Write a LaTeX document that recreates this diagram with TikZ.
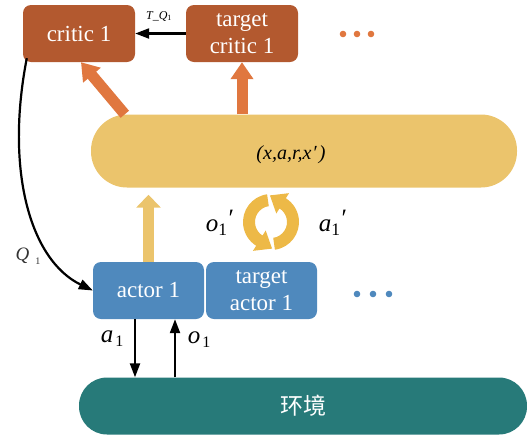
\documentclass[tikz,border=0pt]{standalone}
\usepackage{fontspec}
\setmainfont{Liberation Serif}
\newfontfamily\cjk{Noto Sans CJK SC}
\usetikzlibrary{arrows.meta,calc}
\definecolor{critc}{HTML}{B3592F}
\definecolor{orng}{HTML}{E0773F}
\definecolor{ylw}{HTML}{EBC46C}
\definecolor{gold}{HTML}{EDB947}
\definecolor{blu}{HTML}{4F89BD}
\definecolor{teal2}{HTML}{277A79}
\tikzset{
  box/.style={rectangle, rounded corners=8pt, minimum width=112pt, minimum height=57pt,
    text=white, font=\fontsize{23}{27}\selectfont, align=center, inner sep=0pt},
  fatarrow/.style={line width=11pt, -{Triangle[width=22pt,length=17pt]}},
  blk/.style={line width=2.2pt, -{Triangle[width=10pt,length=14pt]}},
  lbl/.style={font=\fontsize{25}{26}\selectfont, inner sep=0pt},
}
\begin{document}
\begin{tikzpicture}[x=1pt,y=-1pt]
\useasboundingbox (0,0) rectangle (527,437);
% boxes
\node[box, fill=critc] (critic) at (79,33.5) {critic 1};
\node[box, fill=critc] (tcritic) at (242,33.5) {target\\critic 1};
\node[rectangle, rounded corners=36pt, fill=ylw, minimum width=426pt, minimum height=73pt, inner sep=0pt] (buf) at (304,151) {};
\node[font=\fontsize{20}{20}\selectfont, inner sep=0pt] (tuple) at (291,155) {\itshape(x,a,r,x\kern1pt′\kern2pt)};
\node[box, fill=blu, minimum width=111pt] (actor) at (148.5,290.5) {actor 1};
\node[box, fill=blu, minimum width=111pt] (tactor) at (261.5,290.5) {target\\actor 1};
\node[rectangle, rounded corners=28pt, fill=teal2, minimum width=448pt, minimum height=57pt, inner sep=0pt,
  text=white, font=\fontsize{23}{24}\selectfont\cjk] (env) at (303,406) {环境};
% dots
\foreach \x in {343,357,371} \fill[orng] (\x,34) circle (3.3pt);
\foreach \x in {357,373,389} \fill[blu] (\x,294) circle (3.3pt);
% thick arrows
\draw[fatarrow, orng] ([xshift=34pt]buf.north west) -- ([xshift=2pt]critic.south);
\draw[fatarrow, orng] (tcritic.south |- buf.north) -- (tcritic.south);
\draw[line width=11pt, -{Triangle[width=24pt,length=13pt]}, ylw, shorten >=7pt] (actor.north) -- (actor.north |- buf.south);
% circular arrows
\begin{scope}[shift={(271,222)}, y=1pt]
\fill[gold] (98:28) arc[start angle=98, end angle=238, radius=28] -- (238:34)
  -- ($(238:22)+(328:15)$) -- (238:10) -- (238:16) arc[start angle=238, end angle=98, radius=16] -- cycle;
\fill[gold] (278:28) arc[start angle=278, end angle=418, radius=28] -- (58:34)
  -- ($(58:22)+(148:15)$) -- (58:10) -- (58:16) arc[start angle=418, end angle=278, radius=16] -- cycle;
\end{scope}
\node[lbl] (o1p) at (220,223) {\itshape o\upshape\textsubscript{1}\kern1pt\raisebox{5pt}{′}};
\node[lbl] (a1p) at (333,223) {\itshape a\upshape\textsubscript{1}\kern1pt\raisebox{5pt}{′}};
% black arrows
\draw[blk] (tcritic.west) -- (critic.east);
\node[font=\fontsize{12}{12}\selectfont, inner sep=0pt] (tq) at (159,16) {\itshape T\_Q\upshape\textsubscript{1}};
\draw[blk] ([xshift=4pt,yshift=4pt]critic.south west) .. controls (5,170) and (30,260) .. (actor.west);
\node[font=\fontsize{19}{20}\selectfont, inner sep=0pt, text=black!80] (q1) at (28,256) {\itshape Q\upshape\kern6pt\raisebox{-4pt}{\fontsize{10}{10}\selectfont 1}};
\coordinate (adown) at (135,0);
\coordinate (oup) at (175,0);
\draw[blk] (adown |- actor.south) -- (adown |- env.north);
\draw[blk] (oup |- env.north) -- (oup |- actor.south);
\node[lbl] (a1) at (112,339) {\itshape a\upshape\kern2pt\raisebox{-4pt}{\fontsize{16}{16}\selectfont 1}};
\node[lbl] (o1) at (199,340) {\itshape o\upshape\kern2pt\raisebox{-4pt}{\fontsize{16}{16}\selectfont 1}};
\end{tikzpicture}
\end{document}
